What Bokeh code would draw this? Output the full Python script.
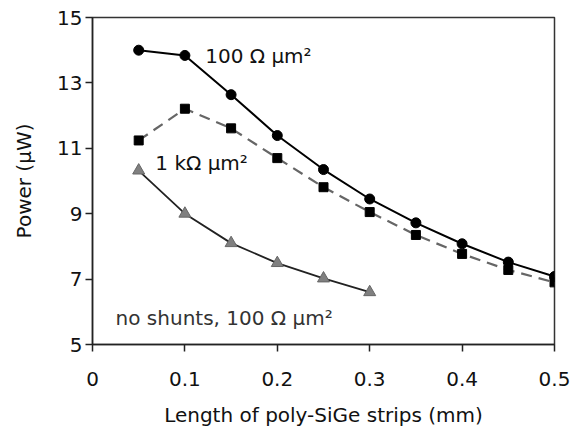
from bokeh.plotting import figure
from bokeh.embed import file_html
from bokeh.resources import INLINE
from bokeh.models import Range1d, FixedTicker
from bokeh.core.properties import value

length_mm = [0.05, 0.10, 0.15, 0.20, 0.25, 0.30, 0.35, 0.40, 0.45, 0.50]
power_100 = [14.00, 13.84, 12.64, 11.39, 10.35, 9.45, 8.72, 8.08, 7.52, 7.08]
power_1k = [11.24, 12.21, 11.61, 10.70, 9.81, 9.05, 8.35, 7.77, 7.28, 6.90]
length_noshunt = [0.05, 0.10, 0.15, 0.20, 0.25, 0.30]
power_noshunt = [10.32, 9.00, 8.10, 7.49, 7.02, 6.60]
x_ticks = [0, 0.1, 0.2, 0.3, 0.4, 0.5]
y_ticks = [5, 7, 9, 11, 13, 15]

FONT = "DejaVu Sans"

p = figure(width=574, height=432, output_backend="svg", toolbar_location=None,
           x_range=Range1d(0, 0.5), y_range=Range1d(5, 15),
           min_border_left=92, min_border_right=20, min_border_top=17, min_border_bottom=88)

p.xgrid.visible = False
p.ygrid.visible = False
p.outline_line_color = "#333333"
p.outline_line_width = 1.5
p.background_fill_color = "white"
p.border_fill_color = "white"

for ax in (p.xaxis[0], p.yaxis[0]):
    ax.axis_line_color = "#222222"
    ax.axis_line_width = 1.5
    ax.major_tick_line_color = "#222222"
    ax.major_tick_line_width = 1.5
    ax.major_tick_in = 0
    ax.major_tick_out = 7
    ax.minor_tick_line_color = None
    ax.major_label_text_font = FONT
    ax.major_label_text_font_size = "20px"
    ax.major_label_text_color = "#111111"
    ax.axis_label_text_font = FONT
    ax.axis_label_text_font_size = "20px"
    ax.axis_label_text_font_style = "normal"
    ax.axis_label_text_color = "#111111"

p.xaxis.ticker = FixedTicker(ticks=x_ticks)
p.yaxis.ticker = FixedTicker(ticks=y_ticks)
p.xaxis.major_label_overrides = {0: "0", 0.1: "0.1", 0.2: "0.2", 0.3: "0.3", 0.4: "0.4", 0.5: "0.5"}
p.xaxis.axis_label = "Length of poly-SiGe strips (mm)"
p.yaxis.axis_label = "Power (µW)"
p.xaxis.major_label_standoff = 20
p.xaxis.axis_label_standoff = 14
p.yaxis.major_label_standoff = 3
p.yaxis.axis_label_standoff = 18

# no shunts
p.line(length_noshunt, power_noshunt, line_color="#222222", line_width=1.8)
p.scatter(length_noshunt, power_noshunt, marker="triangle", size=12,
          fill_color="#808080", line_color="#666666", line_width=1)

# 1 kOhm
p.line(length_mm, power_1k, line_color="#666666", line_width=2.2, line_dash="11 7")
p.scatter(length_mm, power_1k, marker="square", size=9,
          fill_color="black", line_color="black")

# 100 Ohm
p.line(length_mm, power_100, line_color="black", line_width=2)
p.scatter(length_mm, power_100, marker="circle", size=10,
          fill_color="black", line_color="black")

labels_x = [0.122, 0.068, 0.025]
labels_y = [13.83, 10.54, 5.8]
labels_t = ["100 Ω µm²", "1 kΩ µm²", "no shunts, 100 Ω µm²"]
p.text(x=labels_x, y=labels_y, text=labels_t, text_font=value(FONT),
       text_font_size="20px", text_baseline="middle", text_align="left",
       text_color=["#111111", "#111111", "#333333"])

open("out.html", "w").write(file_html(p, INLINE))
